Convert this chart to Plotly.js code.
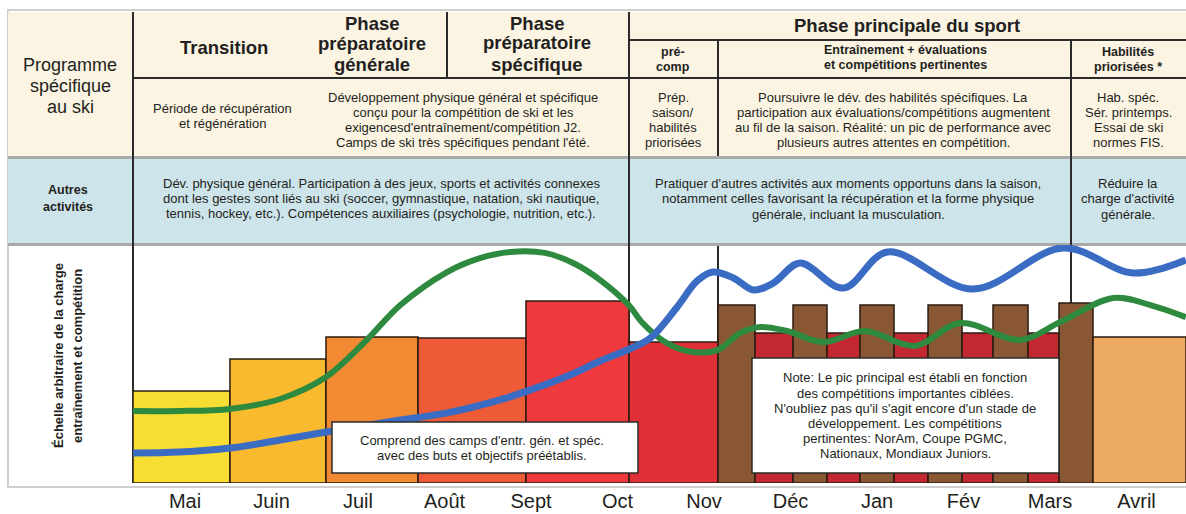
<!DOCTYPE html>
<html>
<head>
<meta charset="utf-8">
<script src="https://cdn.plot.ly/plotly-3.0.1.min.js"></script>
<style>html,body{margin:0;padding:0;background:#fff;}#chart{width:1186px;height:514px;}</style>
</head>
<body>
<div id="chart"></div>
<script>
// ---------- DATA ----------
const months = ["Mai","Juin","Juil","Août","Sept","Oct","Nov","Déc","Jan","Fév","Mars","Avril"];
const monthPos = [0,1,2,3,4,5,6,7,8,9,10,11];

// load blocks: start / end (month units) and arbitrary load value
const barStart = [-0.601, 0.520, 1.630, 2.694, 3.942, 5.133, 6.162, 6.590, 7.029, 7.422, 7.803, 8.197, 8.590, 8.983, 9.341, 9.746, 10.104, 10.497];
const barEnd   = [ 0.520, 1.630, 2.694, 3.942, 5.133, 6.162, 6.590, 7.029, 7.422, 7.803, 8.197, 8.590, 8.983, 9.341, 9.746, 10.104, 10.497, 11.572];
const barValue = [39.0, 52.5, 61.9, 61.4, 77.1, 59.7, 75.4, 63.6, 75.4, 63.6, 75.4, 63.6, 75.4, 63.6, 75.4, 63.6, 76.3, 61.9];
const barColor = ["#F8DE33","#F9BA30","#F28A34","#EE5B36","#EE3A3D","#E02F37",
                  "#8A5734","#C3272F","#8A5734","#C3272F","#8A5734","#C3272F","#8A5734","#C3272F","#8A5734","#C3272F","#8A5734","#EDAA62"];

// green curve (volume)
const greenX = [-0.60,-0.06,0.52,1.10,1.63,2.10,2.49,3.03,3.41,3.76,4.16,4.51,4.80,5.13,5.29,5.57,5.87,6.16,6.42,6.65,6.96,7.38,7.86,8.44,8.96,9.65,10.12,10.73,11.16,11.57];
const greenY = [30.5,30.5,31.4,35.6,44.9,60.6,75.4,89.4,95.3,97.9,97.5,92.8,86.0,75.4,67.8,59.3,55.5,56.4,63.6,66.1,64.4,59.7,64.4,58.1,67.8,60.6,68.2,78.4,75.4,70.3];

// blue curve (intensity)
const blueX = [-0.60,-0.06,0.52,1.10,1.63,2.49,3.03,3.64,4.02,4.45,4.80,5.14,5.38,5.69,5.92,6.10,6.34,6.57,6.80,7.11,7.61,8.12,9.11,10.15,10.96,11.57];
const blueY = [12.7,13.1,14.8,18.2,21.6,26.7,29.7,35.2,39.8,45.8,51.7,56.8,61.4,74.6,85.6,89.4,86.9,81.8,84.7,93.2,82.6,97.9,82.2,99.6,89.0,94.5];

// ---------- LAYOUT HELPERS ----------
const W = 1186, L = 133, T = 245, B = 483;
function px(x){ return (x - L) / (W - L); }
function py(y){ return (B - y) / (B - T); }

const INK = "#231F20";
const FONT = "Liberation Sans, Arial, Helvetica, sans-serif";
const shapes = [];
const annotations = [];

function rect(x0,y0,x1,y1,fill,lineColor,lineW,layer){
  shapes.push({type:"rect", xref:"paper", yref:"paper", x0:px(x0), x1:px(x1), y0:py(y1), y1:py(y0),
    fillcolor: fill || "rgba(0,0,0,0)", line:{color: lineColor || "rgba(0,0,0,0)", width: lineW || 0}, layer: layer || "below"});
}
function seg(x0,y0,x1,y1,color,w,layer){
  shapes.push({type:"line", xref:"paper", yref:"paper", x0:px(x0), x1:px(x1), y0:py(y0), y1:py(y1),
    line:{color:color, width:w}, layer: layer || "below"});
}
function text(lines, cx, ys, size, bold){
  lines.forEach((t,i)=>{
    annotations.push({xref:"paper", yref:"paper", x:px(cx), y:py(ys[i]), xanchor:"center", yanchor:"middle",
      text: bold ? "<b>"+t+"</b>" : t, showarrow:false, font:{family:FONT, size:size, color:INK}});
  });
}

// frame & backgrounds
rect(8,10,1192,487,null,"#CFCFCF",2);
rect(8,12,1186,156,"#FBF4E3");
seg(8,157.5,1186,157.5,"#A9A9A9",3);
rect(8,159,1186,243,"#CDE4EA");
seg(8,244.5,1186,244.5,"#A9A9A9",3);

// grid lines of the table
const DARK = "#2B2B2B";
seg(133,12,133,483,DARK,2);
seg(447,12,447,78,DARK,2);
seg(629,12,629,483,DARK,2);
seg(718,40,718,156,DARK,2);
seg(718,246,718,483,DARK,2);
seg(1071,40,1071,483,DARK,2);
seg(133,78,1186,78,DARK,2);
seg(629,40,1186,40,DARK,2);

// header texts
text(["Programme","spécifique","au ski"],70,[65,86,107],18,false);
text(["Transition"],224,[47],18.5,true);
text(["Phase","préparatoire","générale"],372,[23,44,64],18.5,true);
text(["Phase","préparatoire","spécifique"],537,[23,43,64],18.5,true);
text(["Phase principale du sport"],907,[25],18.5,true);
text(["pré-","comp"],673,[52,67],12.5,true);
text(["Entraînement + évaluations","et compétitions pertinentes"],905,[50,65],12.5,true);
text(["Habilités","priorisées *"],1128,[52,67],12.5,true);

text(["Période de récupération","et régénération"],222,[108,123],13,false);
text(["Développement physique général et spécifique","conçu pour la compétition de ski et les","exigencesd'entraînement/compétition J2.","Camps de ski très spécifiques pendant l'été."],463,[97,112,127,142],13,false);
text(["Prép.","saison/","habilités","priorisées"],673,[97,112,127,142],13,false);
text(["Poursuivre le dév. des habilités spécifiques. La","participation aux évaluations/compétitions augmentent","au fil de la saison. Réalité: un pic de performance avec","plusieurs autres attentes en compétition."],893,[97,112,127,142],13,false);
text(["Hab. spéc.","Sér. printemps.","Essai de ski","normes FIS."],1128,[97,112,127,142],13,false);

text(["Autres","activités"],68,[190,207],12.5,true);
text(["Dév. physique général. Participation à des jeux, sports et activités connexes","dont les gestes sont liés au ski (soccer, gymnastique, natation, ski nautique,","tennis, hockey, etc.). Compétences auxiliaires (psychologie, nutrition, etc.)."],381,[183,198,213],13,false);
text(["Pratiquer d'autres activités aux moments opportuns dans la saison,","notamment celles favorisant la récupération et la forme physique","générale, incluant la musculation."],848,[183,198,214],13,false);
text(["Réduire la","charge d'activité","générale."],1128,[183,198,214],13,false);

// y-axis title (rotated, two lines)
[["Échelle arbitraire de la charge",58],["entraînement et compétition",77]].forEach(([t,x])=>{
  annotations.push({xref:"paper", yref:"paper", x:px(x), y:py(356), xanchor:"center", yanchor:"middle", textangle:-90,
    text:"<b>"+t+"</b>", showarrow:false, font:{family:FONT, size:13, color:INK}});
});

// note boxes
rect(332,422,638,473,"#FFFFFF","#2B2B2B",1.5,"above");
text(["Comprend des camps d'entr. gén. et spéc.","avec des buts et objectifs préétablis."],482,[440,455],13,false);
rect(752,358,1059,473,"#FFFFFF","#2B2B2B",1.5,"above");
text(["Note: Le pic principal est établi en fonction","des compétitions importantes ciblées.","N'oubliez pas qu'il s'agit encore d'un stade de","développement. Les compétitions","pertinentes: NorAm, Coupe PGMC,","Nationaux, Mondiaux Juniors."],905,[377,393,408,423,438,453],13,false);

// ---------- TRACES ----------
const barX = barStart.map((s,i)=> (s + barEnd[i]) / 2);
const barW = barStart.map((s,i)=> barEnd[i] - s);

const traces = [
  {type:"bar", x:barX, y:barValue, width:barW, marker:{color:barColor, line:{color:"#2A1C12", width:1.5}}, hoverinfo:"skip"},
  {type:"scatter", mode:"lines", x:greenX, y:greenY, line:{color:"#2E8A3E", width:6, shape:"spline", smoothing:1}, hoverinfo:"skip"},
  {type:"scatter", mode:"lines", x:blueX, y:blueY, line:{color:"#3A6CC4", width:7, shape:"spline", smoothing:1}, hoverinfo:"skip"}
];

const layout = {
  width:1186, height:514,
  margin:{l:L, r:0, t:T, b:514-B, pad:0},
  paper_bgcolor:"#FFFFFF", plot_bgcolor:"rgba(0,0,0,0)",
  showlegend:false,
  font:{family:FONT, color:INK},
  xaxis:{range:[-0.601, 11.572], tickvals:monthPos, ticktext:months, showgrid:false, zeroline:false, showline:false,
         ticks:"", ticklabelstandoff:4, tickfont:{family:FONT, size:20, color:INK}, fixedrange:true},
  yaxis:{range:[0, 100.85], visible:false, fixedrange:true},
  shapes:shapes,
  annotations:annotations
};

Plotly.newPlot("chart", traces, layout, {displayModeBar:false, staticPlot:true});
</script>
</body>
</html>
